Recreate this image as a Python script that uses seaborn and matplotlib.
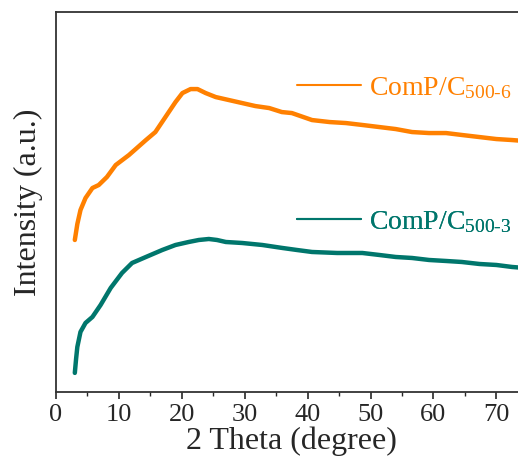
import matplotlib
matplotlib.use("Agg")
import matplotlib.pyplot as plt
from matplotlib.ticker import MultipleLocator
import seaborn as sns
import pandas as pd

# 2 theta (degree) and intensity (a.u.)
theta_6 = [3.0, 3.4, 3.9, 4.7, 5.8, 6.8, 8.1, 9.5, 11.6, 14.3, 15.8, 17.4, 19.0,
           20.1, 21.4, 22.5, 23.8, 25.4, 27.5, 29.6, 31.7, 33.9, 35.9, 37.5,
           40.7, 43.5, 46.1, 48.8, 51.4, 54.0, 56.6, 59.3, 62.0, 64.6, 67.3,
           70.0, 72.5, 74.5]
inten_6 = [152, 168, 182, 194, 204, 207, 215, 227, 237, 252, 260, 275, 290,
           299, 303, 303, 299, 295, 292, 289, 286, 284, 280, 279,
           272, 270, 269, 267, 265, 263, 260, 259, 259, 257, 255,
           253, 252, 251]

theta_3 = [3.0, 3.2, 3.4, 3.9, 4.7, 5.8, 7.1, 8.7, 10.5, 12.1, 14.3, 16.9, 19.0,
           21.1, 22.7, 24.3, 25.6, 27.0, 29.6, 32.8, 36.0, 38.3, 40.7, 44.7,
           48.7, 51.4, 54.0, 56.6, 59.3, 62.0, 64.5, 67.3, 70.0, 72.5, 74.5]
inten_3 = [19, 33, 45, 60, 69, 75, 87, 104, 119, 129, 135, 142, 147,
           150, 152, 153, 152, 150, 149, 147, 144, 142, 140, 139,
           139, 137, 135, 134, 132, 131, 130, 128, 127, 125, 124]

labels = [r"ComP/C$_{500\text{-}6}$", r"ComP/C$_{500\text{-}3}$"]
colors = ["#FF8000", "#00766C"]

df = pd.concat([
    pd.DataFrame({"theta": theta_6, "intensity": inten_6, "sample": labels[0]}),
    pd.DataFrame({"theta": theta_3, "intensity": inten_3, "sample": labels[1]}),
])

sns.set_style("white")
plt.rcParams.update({
    "font.family": ["Liberation Serif", "DejaVu Serif"],
    "mathtext.fontset": "custom",
    "mathtext.rm": "Liberation Serif",
    "mathtext.it": "Liberation Serif:italic",
    "axes.linewidth": 1.3,
})

fig = plt.figure(figsize=(5.18, 4.66), dpi=100)
ax = fig.add_axes([0.108, 0.159, 0.911, 0.815])

sns.lineplot(data=df, x="theta", y="intensity", hue="sample",
             palette=colors, linewidth=3.2, ax=ax, legend=False, sort=False)

ax.set_xlim(0, 75)
ax.set_ylim(0, 380)
ax.xaxis.set_major_locator(MultipleLocator(10))
ax.xaxis.set_minor_locator(MultipleLocator(5))
ax.tick_params(axis="x", which="major", direction="out", length=5, width=1.2,
               labelsize=19, bottom=True, top=False, pad=4)
ax.tick_params(axis="x", which="minor", direction="out", length=3, width=1.0,
               bottom=True, top=False)
ax.set_yticks([])
ax.set_xlabel("2 Theta (degree)", fontsize=23, labelpad=0)
ax.set_ylabel("Intensity (a.u.)", fontsize=23, labelpad=9)
for s in ax.spines.values():
    s.set_color("#333333")

# one legend entry per curve, placed next to it
for line, lab, ypos in zip(ax.get_lines(), labels, [0.80, 0.447]):
    lg = ax.legend([line], [lab], loc="center left", bbox_to_anchor=(0.51, ypos),
                   frameon=False, fontsize=20, handlelength=2.3,
                   handletextpad=0.3, borderpad=0, borderaxespad=0,
                   labelcolor="linecolor")
    lg.get_lines()[0].set_linewidth(1.5)
    ax.add_artist(lg)

fig.savefig("out.png", dpi=100)
